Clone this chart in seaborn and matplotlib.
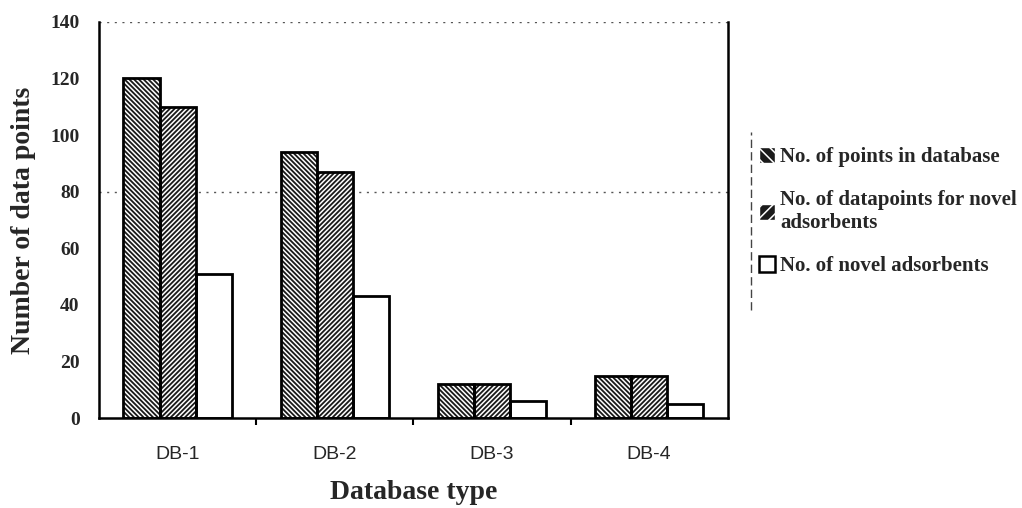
import matplotlib
matplotlib.use("Agg")
import matplotlib.pyplot as plt
from matplotlib.patches import Rectangle, Patch
from matplotlib.lines import Line2D
import seaborn as sns
import pandas as pd

# Data
databases = ["DB-1", "DB-2", "DB-3", "DB-4"]
series_names = [
    "No. of points in database",
    "No. of datapoints for novel\nadsorbents",
    "No. of novel adsorbents",
]
points_in_db = [120, 94, 12, 15]
points_novel = [110, 87, 12, 15]
novel_adsorbents = [51, 43, 6, 5]
y_ticks = [0, 20, 40, 60, 80, 100, 120, 140]

df = pd.DataFrame({
    "Database": databases * 3,
    "Series": [series_names[0]] * 4 + [series_names[1]] * 4 + [series_names[2]] * 4,
    "Value": points_in_db + points_novel + novel_adsorbents,
})

sns.set_theme(style="white")
plt.rcParams["hatch.linewidth"] = 1.1

fig = plt.figure(figsize=(10.22, 5.08), dpi=100)
ax = fig.add_axes([0.097, 0.177, 0.615, 0.780])

palette = {series_names[0]: "#1a1a1a", series_names[1]: "#1a1a1a", series_names[2]: "white"}
sns.barplot(data=df, x="Database", y="Value", hue="Series", hue_order=series_names,
            order=databases, palette=palette, width=0.69, gap=0, ax=ax,
            legend=False, linewidth=0, saturation=1)

hatches = ["\\" * 7, "/" * 7, ""]
for i, container in enumerate(ax.containers):
    for bar in container:
        bar.set_hatch(hatches[i])
        bar.set_edgecolor("white" if hatches[i] else "black")
        bar.set_linewidth(0)
        # black outline around each bar
        ax.add_patch(Rectangle(bar.get_xy(), bar.get_width(), bar.get_height(),
                               fill=False, edgecolor="black", linewidth=2.0, zorder=3))

ax.set_ylim(0, 140)
ax.set_yticks(y_ticks)
ax.set_xlim(-0.5, 3.5)

# sparse dotted reference lines
for yv in [80, 140]:
    ax.axhline(yv, color="#555555", linestyle=(0, (1.5, 4)), linewidth=1.0, zorder=0)

for side in ["left", "bottom", "right"]:
    ax.spines[side].set_color("black")
    ax.spines[side].set_linewidth(1.8)
ax.spines["top"].set_visible(False)

ax.set_xticks(range(4))
ax.set_xticklabels(databases, fontfamily="Liberation Sans", fontsize=14)
ax.set_xticks([0.5, 1.5, 2.5], minor=True)
ax.tick_params(axis="x", which="major", length=0, pad=20)
ax.tick_params(axis="x", which="minor", length=5, width=1.5, direction="out", color="black", bottom=True)
ax.tick_params(axis="y", length=0, pad=14)
for lab in ax.get_yticklabels():
    lab.set_fontfamily("Liberation Serif")
    lab.set_fontweight("bold")
    lab.set_fontsize(14)

ax.set_xlabel("Database type", fontfamily="Liberation Serif", fontweight="bold",
              fontsize=20, labelpad=12)
ax.set_ylabel("Number of data points", fontfamily="Liberation Serif", fontweight="bold",
              fontsize=20, labelpad=10)

handles = [
    Patch(facecolor="#1a1a1a", edgecolor="white", hatch="\\\\\\"),
    Patch(facecolor="#1a1a1a", edgecolor="white", hatch="///"),
    Patch(facecolor="white", edgecolor="black", linewidth=1.8),
]
leg = fig.legend(handles, series_names, loc="upper left", bbox_to_anchor=(0.728, 0.74),
                 frameon=False, handlelength=0.8, handleheight=0.8, handletextpad=0.25,
                 labelspacing=1.1, borderpad=0.2,
                 prop={"family": "Liberation Serif", "weight": "bold", "size": 15})

fig.add_artist(Line2D([0.7345, 0.7345], [0.39, 0.74], color="#444444", linewidth=1.0,
                      linestyle=(0, (6, 3)), transform=fig.transFigure))

fig.savefig("out.png", dpi=100, facecolor="white")
